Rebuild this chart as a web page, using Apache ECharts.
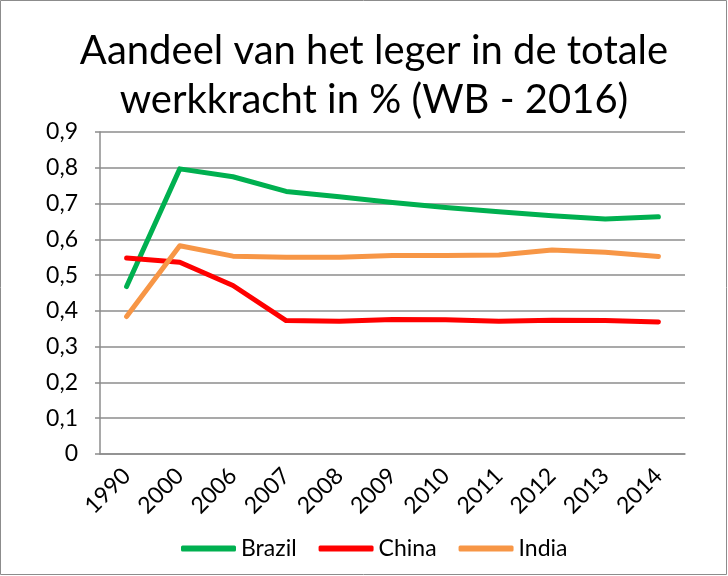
<!DOCTYPE html>
<html>
<head>
<meta charset="utf-8">
<script src="https://cdn.jsdelivr.net/npm/echarts@6/dist/echarts.min.js"></script>
<style>
  html, body { margin: 0; padding: 0; background: #fff; }
  #chart { width: 728px; height: 576px; }
</style>
</head>
<body>
<div id="chart"></div>
<script>
// data
var years = ['1990', '2000', '2006', '2007', '2008', '2009', '2010', '2011', '2012', '2013', '2014'];
var brazil = [0.468, 0.797, 0.775, 0.734, 0.719, 0.703, 0.689, 0.677, 0.666, 0.657, 0.663];
var china = [0.548, 0.536, 0.471, 0.373, 0.371, 0.376, 0.375, 0.371, 0.374, 0.373, 0.369];
var india = [0.384, 0.582, 0.553, 0.550, 0.550, 0.555, 0.555, 0.556, 0.570, 0.564, 0.552];

var font = 'Lato';
var myChart = echarts.init(document.getElementById('chart'));

function serie(name, data, color) {
  return {
    name: name,
    type: 'line',
    data: data,
    symbol: 'none',
    lineStyle: { width: 5, color: color, cap: 'round', join: 'round' },
    itemStyle: { color: color }
  };
}

var option = {
  backgroundColor: '#fff',
  animation: false,
  graphic: [
    {
      type: 'rect',
      shape: { x: 0.5, y: 0.5, width: 726, height: 574 },
      style: { fill: 'none', stroke: '#8c8c8c', lineWidth: 1 }
    },
    {
      type: 'text', x: 374, y: 51,
      style: { text: 'Aandeel van het leger in de totale', font: '40px ' + font, fill: '#000', textAlign: 'center', textVerticalAlign: 'middle' }
    },
    {
      type: 'text', x: 374, y: 100,
      style: { text: 'werkkracht in % (WB - 2016)', font: '40px ' + font, fill: '#000', textAlign: 'center', textVerticalAlign: 'middle' }
    }
  ],
  grid: { left: 100, right: 43, top: 132, bottom: 122 },
  legend: {
    data: ['Brazil', 'China', 'India'],
    left: 176,
    top: 532,
    icon: 'roundRect',
    itemWidth: 55,
    itemHeight: 6,
    itemGap: 22,
    textStyle: { fontFamily: font, fontSize: 23, color: '#000' }
  },
  xAxis: {
    type: 'category',
    data: years,
    boundaryGap: true,
    axisLine: { lineStyle: { color: '#8c8c8c', width: 1.5 } },
    axisTick: { length: 7, lineStyle: { color: '#8c8c8c', width: 1.5 } },
    axisLabel: { rotate: 45, margin: 18, fontFamily: font, fontSize: 23, color: '#000' }
  },
  yAxis: {
    type: 'value',
    min: 0,
    max: 0.9,
    interval: 0.1,
    axisLine: { show: true, lineStyle: { color: '#8c8c8c', width: 1.5 } },
    axisTick: { show: true, length: 5, lineStyle: { color: '#8c8c8c', width: 1.5 } },
    splitLine: { lineStyle: { color: '#8c8c8c', width: 1.5 } },
    axisLabel: {
      margin: 22,
      fontFamily: font, fontSize: 23, color: '#000',
      formatter: function (v) { return v === 0 ? '0' : v.toFixed(1).replace('.', ','); }
    }
  },
  series: [
    serie('Brazil', brazil, '#00b050'),
    serie('China', china, '#ff0000'),
    serie('India', india, '#f79646')
  ]
};

myChart.setOption(option);
</script>
</body>
</html>
